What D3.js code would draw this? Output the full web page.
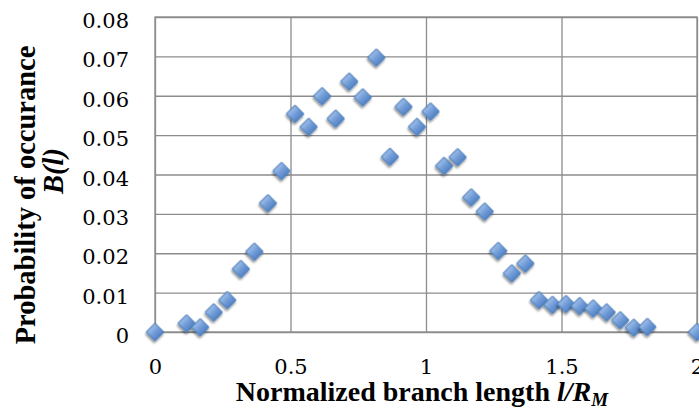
<!DOCTYPE html>
<html>
<head>
<meta charset="utf-8">
<script src="https://cdn.jsdelivr.net/npm/d3@7"></script>
<style>
  body { margin: 0; background: #fff; }
  svg { display: block; }
</style>
</head>
<body>
<div id="chart"></div>
<script>
// Branch length (normalized) and probability of occurance
const lengths = [0, 0.117, 0.167, 0.217, 0.267, 0.317, 0.367, 0.417, 0.467, 0.517,
  0.567, 0.617, 0.667, 0.717, 0.767, 0.817, 0.867, 0.917, 0.967, 1.017,
  1.067, 1.117, 1.167, 1.217, 1.267, 1.317, 1.367, 1.417, 1.467, 1.517,
  1.567, 1.617, 1.667, 1.717, 1.767, 1.817, 2.0];
const probs = [0, 0.0022, 0.0012, 0.0050, 0.0081, 0.0160, 0.0204, 0.0327, 0.0409, 0.0554,
  0.0521, 0.0599, 0.0542, 0.0636, 0.0596, 0.0697, 0.0445, 0.0572, 0.0521, 0.0560,
  0.0422, 0.0444, 0.0342, 0.0306, 0.0206, 0.0149, 0.0174, 0.0081, 0.0069, 0.0071,
  0.0066, 0.0060, 0.0050, 0.0030, 0.0011, 0.0013, 0];
const xTicks = [0, 0.5, 1, 1.5, 2];
const yTicks = [0, 0.01, 0.02, 0.03, 0.04, 0.05, 0.06, 0.07, 0.08];

const W = 699, H = 410;
const margin = { top: 17, right: 2, bottom: 78, left: 155 };
const plotW = W - margin.left - margin.right;
const plotH = H - margin.top - margin.bottom;

const GRID = "#8c8c8c";
const TICK_FONT = "'DejaVu Serif', serif";
const TITLE_FONT = "'Liberation Serif', 'Times New Roman', serif";

const data = lengths.map((l, i) => ({ l, p: probs[i] }));

const x = d3.scaleLinear().domain([0, 2]).range([0, plotW]);
const y = d3.scaleLinear().domain([0, 0.08]).range([plotH, 0]);

const svg = d3.select("#chart").append("svg")
  .attr("width", W).attr("height", H);

const defs = svg.append("defs");
const grad = defs.append("linearGradient").attr("id", "mk")
  .attr("x1", "0%").attr("y1", "0%").attr("x2", "100%").attr("y2", "0%");
grad.append("stop").attr("offset", "0%").attr("stop-color", "#9dbde8");
grad.append("stop").attr("offset", "55%").attr("stop-color", "#6f9ad6");
grad.append("stop").attr("offset", "100%").attr("stop-color", "#5583c6");

const shadow = defs.append("filter").attr("id", "sh")
  .attr("x", "-50%").attr("y", "-50%").attr("width", "200%").attr("height", "200%");
shadow.append("feGaussianBlur").attr("in", "SourceAlpha").attr("stdDeviation", 1.3);
shadow.append("feOffset").attr("dx", 1.2).attr("dy", 2.2).attr("result", "ob");
shadow.append("feComponentTransfer").append("feFuncA").attr("type", "linear").attr("slope", 0.45);
const merge = shadow.append("feMerge");
merge.append("feMergeNode");
merge.append("feMergeNode").attr("in", "SourceGraphic");

const g = svg.append("g").attr("transform", `translate(${margin.left},${margin.top})`);

// y axis with horizontal gridlines
const yAxis = g.append("g")
  .call(d3.axisLeft(y).tickValues(yTicks).tickSizeInner(-plotW).tickSizeOuter(0)
    .tickPadding(26).tickFormat(d => d === 0 ? "0" : d3.format(".2f")(d)));
yAxis.select(".domain").remove();
yAxis.selectAll("line").attr("stroke", GRID).attr("stroke-width", 1.3);
yAxis.selectAll("text").attr("dy", "0.5em")
  .style("font-family", TICK_FONT).style("font-size", "21px").style("fill", "#000");

// x axis with vertical gridlines
const xAxis = g.append("g").attr("transform", `translate(0,${plotH})`)
  .call(d3.axisBottom(x).tickValues(xTicks).tickSizeInner(-plotH).tickSizeOuter(0)
    .tickPadding(27).tickFormat(d3.format("")));
xAxis.select(".domain").remove();
xAxis.selectAll("line").attr("stroke", GRID).attr("stroke-width", 1.3);
xAxis.selectAll("text")
  .style("font-family", TICK_FONT).style("font-size", "21px").style("fill", "#000");

// plot border
g.append("rect").attr("width", plotW).attr("height", plotH)
  .attr("fill", "none").attr("stroke", GRID).attr("stroke-width", 1.3);

// diamond markers
const diamond = d3.symbol().type(d3.symbolSquare).size(150);
g.append("g").selectAll("path").data(data).join("path")
  .attr("d", diamond)
  .attr("transform", d => `translate(${x(d.l)},${y(d.p)}) rotate(45)`)
  .attr("fill", "url(#mk)")
  .attr("stroke", "#4a7ebb").attr("stroke-width", 1)
  .attr("filter", "url(#sh)");

// x title
const xt = svg.append("text")
  .attr("x", margin.left + plotW / 2 - 4).attr("y", 401)
  .attr("text-anchor", "middle")
  .style("font-family", TITLE_FONT).style("font-size", "28px").style("font-weight", "bold");
xt.append("tspan").text("Normalized branch length ");
xt.append("tspan").style("font-style", "italic").text("l/R");
xt.append("tspan").style("font-style", "italic").style("font-size", "19px")
  .attr("dy", 5).text("M");

// y title, two lines
svg.append("text")
  .attr("transform", "translate(35,195) rotate(-90)")
  .attr("text-anchor", "middle")
  .style("font-family", TITLE_FONT).style("font-size", "28.5px").style("font-weight", "bold")
  .text("Probability of occurance");
svg.append("text")
  .attr("transform", "translate(63,171) rotate(-90)")
  .attr("text-anchor", "middle")
  .style("font-family", TITLE_FONT).style("font-size", "28.5px").style("font-weight", "bold")
  .style("font-style", "italic")
  .text("B(l)");
</script>
</body>
</html>
